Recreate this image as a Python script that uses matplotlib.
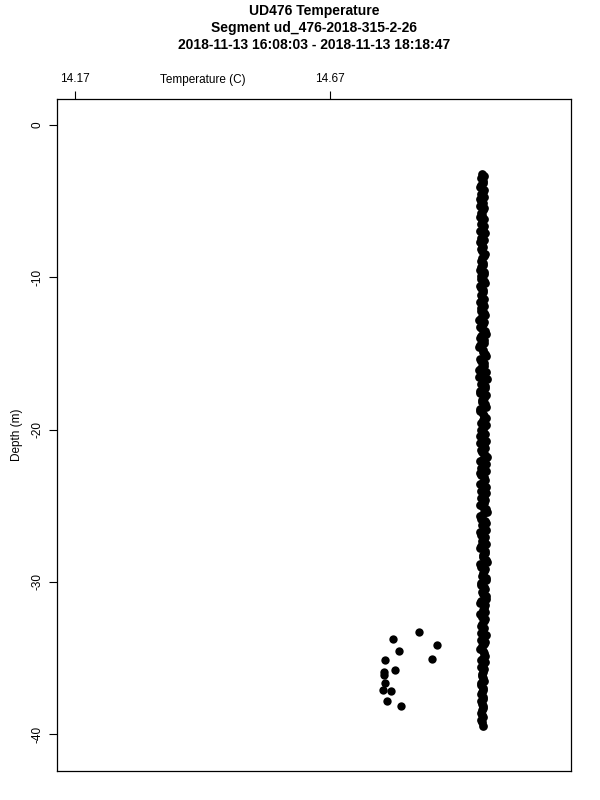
import matplotlib
matplotlib.use("Agg")
import matplotlib.pyplot as plt

plt.rcParams['font.family'] = ['Liberation Sans', 'DejaVu Sans']

# main profile (temperature vs depth), down cast
depth = [
    -3.2, -3.5, -3.8, -4.1, -4.4, -4.7, -5.0, -5.3, -5.6, -5.9,
    -6.2, -6.5, -6.8, -7.1, -7.4, -7.7, -8.0, -8.3, -8.6, -8.9,
    -9.2, -9.5, -9.8, -10.1, -10.4, -10.7, -11.0, -11.3, -11.6, -11.9,
    -12.2, -12.5, -12.8, -13.1, -13.4, -13.7, -14.0, -14.3, -14.6, -14.9,
    -15.2, -15.5, -15.8, -16.1, -16.4, -16.7, -17.0, -17.3, -17.6, -17.9,
    -18.2, -18.5, -18.8, -19.1, -19.4, -19.7, -20.0, -20.3, -20.6, -20.9,
    -21.2, -21.5, -21.8, -22.1, -22.4, -22.7, -23.0, -23.3, -23.6, -23.9,
    -24.2, -24.5, -24.8, -25.1, -25.4, -25.7, -26.0, -26.3, -26.6, -26.9,
    -27.2, -27.5, -27.8, -28.1, -28.4, -28.7, -29.0, -29.3, -29.6, -29.9,
    -30.2, -30.5, -30.8, -31.1, -31.4, -31.7, -32.0, -32.3, -32.6, -32.9,
    -33.2, -33.5, -33.8, -34.1, -34.4, -34.7, -35.0, -35.3, -35.6, -35.9,
    -36.2, -36.5, -36.8, -37.1, -37.4, -37.7, -38.0, -38.3, -38.6, -38.9,
    -39.2, -39.5,
]
temp = [
    14.968, 14.966, 14.970, 14.965, 14.969, 14.972, 14.967, 14.964, 14.970, 14.968,
    14.971, 14.966, 14.969, 14.973, 14.967, 14.965, 14.970, 14.968, 14.972, 14.966,
    14.969, 14.964, 14.971, 14.967, 14.973, 14.966, 14.970, 14.968, 14.965, 14.972,
    14.967, 14.974, 14.963, 14.970, 14.968, 14.975, 14.965, 14.971, 14.962, 14.969,
    14.976, 14.966, 14.972, 14.963, 14.970, 14.977, 14.967, 14.974, 14.964, 14.971,
    14.968, 14.975, 14.965, 14.972, 14.969, 14.976, 14.966, 14.973, 14.970, 14.964,
    14.974, 14.968, 14.977, 14.965, 14.971, 14.975, 14.967, 14.973, 14.964, 14.970,
    14.976, 14.966, 14.972, 14.969, 14.977, 14.965, 14.973, 14.968, 14.975, 14.967,
    14.971, 14.976, 14.965, 14.973, 14.969, 14.977, 14.966, 14.972, 14.968, 14.975,
    14.967, 14.973, 14.970, 14.976, 14.965, 14.971, 14.974, 14.968, 14.972, 14.966,
    14.970, 14.975, 14.967, 14.972, 14.965, 14.971, 14.969, 14.973, 14.966, 14.970,
    14.968, 14.971, 14.966, 14.970, 14.967, 14.969, 14.968, 14.970, 14.967, 14.969,
    14.968, 14.969,
]

# main profile, up cast
depth_up = [
    -3.35, -3.65, -3.95, -4.25, -4.55, -4.85, -5.15, -5.45, -5.75, -6.05,
    -6.35, -6.65, -6.95, -7.25, -7.55, -7.85, -8.15, -8.45, -8.75, -9.05,
    -9.35, -9.65, -9.95, -10.25, -10.55, -10.85, -11.15, -11.45, -11.75, -12.05,
    -12.35, -12.65, -12.95, -13.25, -13.55, -13.85, -14.15, -14.45, -14.75, -15.05,
    -15.35, -15.65, -15.95, -16.25, -16.55, -16.85, -17.15, -17.45, -17.75, -18.05,
    -18.35, -18.65, -18.95, -19.25, -19.55, -19.85, -20.15, -20.45, -20.75, -21.05,
    -21.35, -21.65, -21.95, -22.25, -22.55, -22.85, -23.15, -23.45, -23.75, -24.05,
    -24.35, -24.65, -24.95, -25.25, -25.55, -25.85, -26.15, -26.45, -26.75, -27.05,
    -27.35, -27.65, -27.95, -28.25, -28.55, -28.85, -29.15, -29.45, -29.75, -30.05,
    -30.35, -30.65, -30.95, -31.25, -31.55, -31.85, -32.15, -32.45, -32.75, -33.05,
    -33.35, -33.65, -33.95, -34.25, -34.55, -34.85, -35.15, -35.45, -35.75, -36.05,
    -36.35, -36.65, -36.95, -37.25, -37.55, -37.85, -38.15, -38.45, -38.75, -39.05,
]
temp_up = [
    14.971, 14.969, 14.966, 14.971, 14.967, 14.965, 14.970, 14.972, 14.966, 14.965,
    14.968, 14.972, 14.965, 14.969, 14.971, 14.968, 14.966, 14.973, 14.968, 14.970,
    14.966, 14.971, 14.967, 14.972, 14.965, 14.970, 14.967, 14.972, 14.969, 14.966,
    14.972, 14.966, 14.971, 14.964, 14.973, 14.967, 14.972, 14.964, 14.970, 14.974,
    14.965, 14.972, 14.967, 14.975, 14.963, 14.970, 14.973, 14.965, 14.976, 14.968,
    14.973, 14.964, 14.970, 14.976, 14.966, 14.972, 14.969, 14.965, 14.975, 14.971,
    14.966, 14.973, 14.969, 14.976, 14.967, 14.964, 14.972, 14.969, 14.976, 14.967,
    14.971, 14.974, 14.965, 14.975, 14.970, 14.967, 14.976, 14.971, 14.964, 14.973,
    14.968, 14.966, 14.974, 14.970, 14.976, 14.965, 14.973, 14.969, 14.975, 14.966,
    14.972, 14.968, 14.975, 14.966, 14.973, 14.969, 14.965, 14.974, 14.968, 14.972,
    14.967, 14.971, 14.973, 14.968, 14.970, 14.974, 14.967, 14.969, 14.971, 14.968,
    14.970, 14.967, 14.969, 14.968, 14.970, 14.967, 14.969, 14.968, 14.968, 14.967,
]

# scattered points near the bottom
out_depth = [-33.28, -33.74, -34.13, -34.55, -35.07, -35.14, -35.80, -35.93,
             -36.14, -36.67, -37.11, -37.18, -37.81, -38.18]
out_temp = [14.845, 14.794, 14.880, 14.806, 14.869, 14.778, 14.797, 14.775,
            14.775, 14.778, 14.773, 14.789, 14.782, 14.809]

xticks = [14.17, 14.67]
yticks = [0, -10, -20, -30, -40]

fig = plt.figure(figsize=(6, 8), dpi=100)
ax = fig.add_axes([57 / 600, 1 - 771 / 800, 514 / 600, 672 / 800])

ax.plot(temp, depth, 'o', color='black', ms=6.3, mew=0)
ax.plot(temp_up, depth_up, 'o', color='black', ms=6.3, mew=0)
ax.plot(out_temp, out_depth, 'o', color='black', ms=6, mew=0)

ax.set_xlim(14.1347, 15.1425)
ax.set_ylim(-42.43, 1.708)

ax.xaxis.tick_top()
ax.set_xticks(xticks)
ax.set_xticklabels(['%.2f' % v for v in xticks], fontsize=8.5)
ax.set_yticks(yticks)
ax.set_yticklabels([str(v) for v in yticks], fontsize=8.5, rotation=90, va='center')
ax.tick_params(axis='both', length=6, width=0.8, color='black', pad=4)
for s in ax.spines.values():
    s.set_linewidth(0.9)

ax.text(14.42, 1.0 + 13 / 672, 'Temperature (C)', transform=ax.get_xaxis_transform(),
        ha='center', va='bottom', fontsize=8.5)
ax.text(-0.078, 0.5, 'Depth (m)', transform=ax.transAxes, rotation=90,
        ha='center', va='center', fontsize=8.5)

fig.text(314 / 600, 1 - 11 / 800, 'UD476 Temperature', ha='center', va='center',
         fontsize=10, fontweight='bold')
fig.text(314 / 600, 1 - 28 / 800, 'Segment ud_476-2018-315-2-26', ha='center',
         va='center', fontsize=10, fontweight='bold')
fig.text(314 / 600, 1 - 45 / 800, '2018-11-13 16:08:03 - 2018-11-13 18:18:47',
         ha='center', va='center', fontsize=10, fontweight='bold')

fig.savefig('out.png', dpi=100)
